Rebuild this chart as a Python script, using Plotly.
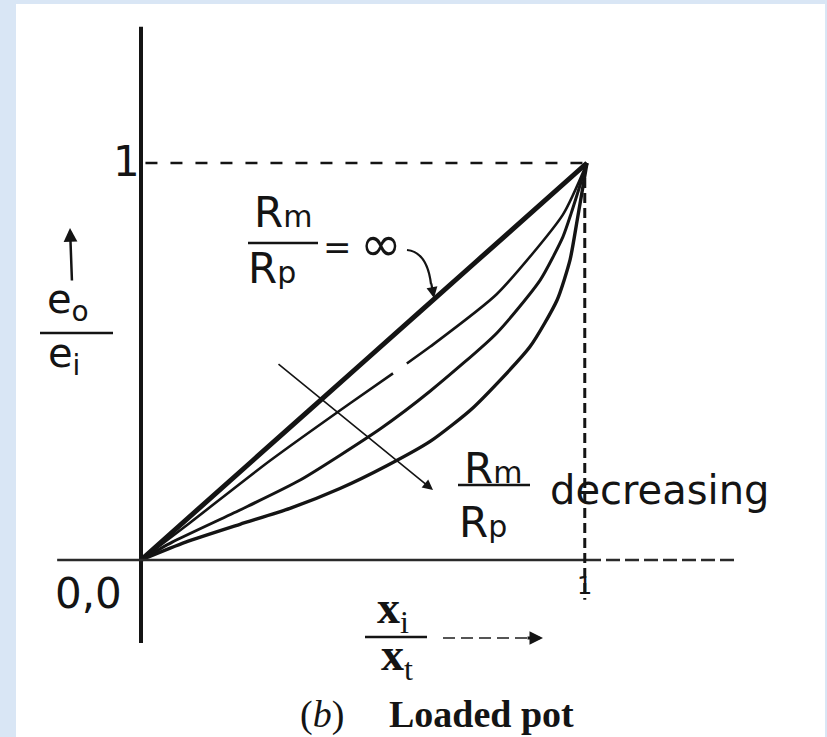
import plotly.graph_objects as go

W, H = 827, 737
INK = "#141414"
SANS = "DejaVu Sans, sans-serif"
SERIF = "Liberation Serif, serif"

# curves, x_i/x_t against e_o/e_i
inf_x = [0.0, 0.25, 0.5, 0.75, 1.0]
inf_y = [0.0, 0.25, 0.5, 0.75, 1.0]

mid1_x = [0.0, 0.11, 0.289, 0.469, 0.565, None, 0.596, 0.648, 0.798, 0.946, 1.0]
mid1_y = [0.0, 0.094, 0.25, 0.395, 0.47, None, 0.495, 0.537, 0.67, 0.87, 1.0]

mid2_x = [0.0, 0.07, 0.222, 0.357, 0.536, 0.648, 0.798, 0.895, 0.946, 0.965, 1.0]
mid2_y = [0.0, 0.045, 0.126, 0.2015, 0.33, 0.425, 0.572, 0.705, 0.814, 0.875, 1.0]

low_x = [0.0, 0.1, 0.222, 0.334, 0.446, 0.552, 0.65, 0.744, 0.872, 0.933, 0.962, 0.978, 1.0]
low_y = [0.0, 0.045, 0.09, 0.13, 0.18, 0.238, 0.3, 0.383, 0.537, 0.655, 0.756, 0.856, 1.0]

curves = [
    (inf_x, inf_y, 5.0),
    (mid1_x, mid1_y, 2.6),
    (mid2_x, mid2_y, 3.0),
    (low_x, low_y, 3.4),
]

# pixel frame of the scanned drawing: origin and the (1,1) corner
OX, OY = 141, 560
SX, SY = 446, 397


def px(xp, yp):
    return xp / W, 1 - yp / H


def label(text, xp, yp, size, family=SANS, **kw):
    x, y = px(xp, yp)
    fig.add_annotation(
        text=text, x=x, y=y, xref="paper", yref="paper", showarrow=False,
        font=dict(size=size, family=family, color=INK),
        xanchor=kw.pop("xanchor", "center"), yanchor="middle", **kw,
    )


def bar(x0p, x1p, yp, width=2.5):
    x0, y0 = px(x0p, yp)
    x1, _ = px(x1p, yp)
    fig.add_shape(type="line", xref="paper", yref="paper", x0=x0, x1=x1, y0=y0, y1=y0,
                  line=dict(color=INK, width=width))


def arrow(head, tail, width=1.6, head_style=2, size=1.0):
    x, y = px(*head)
    fig.add_annotation(
        x=x, y=y, xref="paper", yref="paper", text="", showarrow=True,
        ax=tail[0] - head[0], ay=tail[1] - head[1],
        arrowhead=head_style, arrowsize=size, arrowwidth=width, arrowcolor=INK,
    )


fig = go.Figure()

for xs, ys, w in curves:
    fig.add_trace(go.Scatter(
        x=xs, y=ys, mode="lines", line=dict(color=INK, width=w, shape="spline", smoothing=0.6),
        showlegend=False, hoverinfo="skip",
    ))

# axes as drawn in the book figure
fig.add_shape(type="line", x0=0, x1=0, y0=-0.209, y1=1.343, line=dict(color=INK, width=4))
fig.add_shape(type="line", x0=-0.188, x1=1.0, y0=0, y1=0, line=dict(color="#2a2a2a", width=2.5))
fig.add_shape(type="line", x0=1.0, x1=1.332, y0=0, y1=0,
              line=dict(color="#2a2a2a", width=2.5, dash="14px,5px"))

# dashed guides at 1
fig.add_shape(type="line", x0=0.01, x1=1.0, y0=1, y1=1,
              line=dict(color=INK, width=2.5, dash="12px,13px"))
fig.add_shape(type="line", x0=0.995, x1=0.995, y0=1, y1=-0.1,
              line=dict(color=INK, width=3, dash="10px,5px"))

# slide background strips around the scan
for x0, x1, y0, y1 in [(0, 16, 0, H), (0, W, 0, 4), (825, W, 0, H)]:
    a, b = px(x0, y0)
    c, d = px(x1, y1)
    fig.add_shape(type="rect", xref="paper", yref="paper", x0=a, x1=c, y0=d, y1=b,
                  line_width=0, fillcolor="#d9e6f5", layer="below")

# tick labels
label("1", 127, 161, 42)
label("0,0", 88, 593, 42)
label("1", 584, 586, 24)

# e_o / e_i
arrow((70, 228), (72, 282), width=2.5, head_style=2, size=1.1)
label("e<sub>o</sub>", 68, 302, 40)
bar(40, 113, 333)
label("e<sub>i</sub>", 64, 356, 40)

# R_m / R_p = inf
label("R<span style='font-size:30px'>m</span>", 283, 212, 42)
bar(248, 318, 243)
label("R<span style='font-size:30px'>p</span>", 272, 268, 42)
label("=", 337, 247, 34)
label("\u221e", 381, 244, 50)
a, b = px(407, 250)
c, d = px(427, 252)
e, f = px(431, 284)
fig.add_shape(type="path", xref="paper", yref="paper",
              path=f"M {a},{b} Q {c},{d} {e},{f}", line=dict(color=INK, width=2.2))
arrow((434, 298), (431, 282), width=2.2, head_style=2, size=1.0)

# crossing arrow for decreasing ratio
arrow((433, 490), (277, 363), width=1.6, head_style=2, size=1.3)

# R_m / R_p decreasing
label("R<span style='font-size:30px'>m</span>", 493, 468, 42)
bar(458, 530, 485)
label("R<span style='font-size:30px'>p</span>", 483, 522, 42)
label("decreasing", 548, 490, 40, xanchor="left")

# x_i / x_t
label("<b>x</b><sub>i</sub>", 393, 611, 46, family=SERIF)
bar(365, 427, 637)
label("<b>x</b><sub>t</sub>", 397, 658, 46, family=SERIF)
a, b = px(443, 638)
c, _ = px(528, 638)
fig.add_shape(type="line", xref="paper", yref="paper", x0=a, x1=c, y0=b, y1=b,
              line=dict(color="#555555", width=2, dash="12px,6px"))
arrow((543, 638), (526, 638), width=3, head_style=2, size=0.9)

# caption
label("(<i>b</i>)", 322, 714, 38, family=SERIF)
label("<b>Loaded pot</b>", 481, 714, 38, family=SERIF)

fig.update_layout(
    width=W, height=H, autosize=False,
    margin=dict(l=0, r=0, t=0, b=0),
    paper_bgcolor="white", plot_bgcolor="rgba(0,0,0,0)",
    xaxis=dict(visible=False, range=[-OX / SX, (W - OX) / SX], domain=[0, 1], fixedrange=True),
    yaxis=dict(visible=False, range=[-(H - OY) / SY, OY / SY], domain=[0, 1], fixedrange=True),
    showlegend=False,
)

# the page default margin would shift the figure by 8px
fig.write_html(
    "out.html",
    config={"displayModeBar": False},
    post_script="document.body.style.margin='0';document.body.style.overflow='hidden';",
)
